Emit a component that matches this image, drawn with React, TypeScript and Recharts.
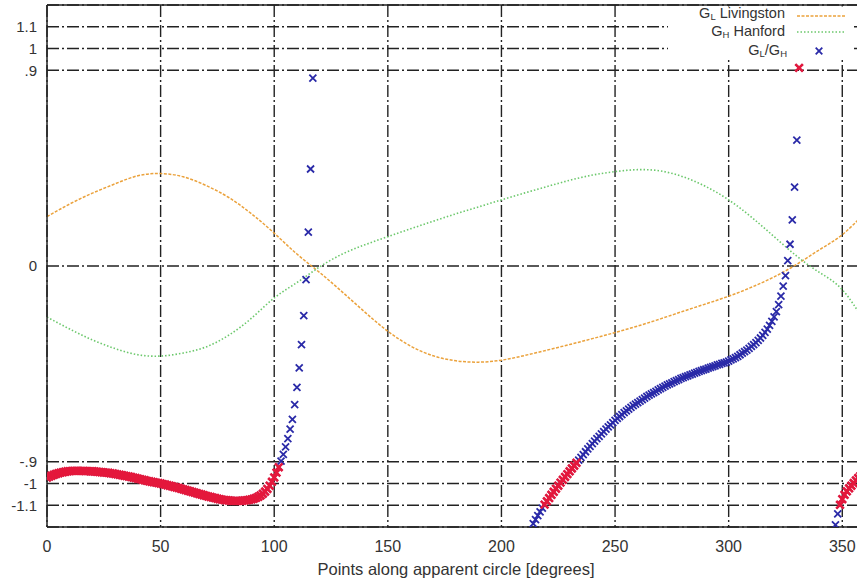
import React from 'react';
import { ComposedChart, Line, Scatter, XAxis, YAxis, CartesianGrid, ReferenceLine } from 'recharts';

// ---- tick labels ----
const xTicks = [0, 50, 100, 150, 200, 250, 300, 350];
const yTicks = [-1.1, -1, -0.9, 0, 0.9, 1, 1.1];
const yTickLabels = ['-1.1', '-1', '-.9', '0', '.9', '1', '1.1'];

// ---- antenna patterns, sampled every 10 degrees ----
const angles10 = [0, 10, 20, 30, 40, 50, 60, 70, 80, 90, 100, 110, 120, 130, 140, 150, 160, 170, 180,
  190, 200, 210, 220, 230, 240, 250, 260, 270, 280, 290, 300, 310, 320, 330, 340, 350, 360];
const livingston = [0.227, 0.285, 0.335, 0.378, 0.415, 0.425, 0.41, 0.37, 0.315, 0.24, 0.151, 0.055,
  -0.03, -0.12, -0.213, -0.3, -0.368, -0.413, -0.436, -0.442, -0.433, -0.412, -0.387, -0.361, -0.334,
  -0.306, -0.276, -0.243, -0.208, -0.174, -0.139, -0.098, -0.05, 0.008, 0.075, 0.144, 0.245];
const hanford = [-0.235, -0.29, -0.34, -0.38, -0.408, -0.414, -0.4, -0.372, -0.318, -0.24, -0.147, -0.076,
  -0.004, 0.055, 0.098, 0.135, 0.171, 0.206, 0.24, 0.272, 0.304, 0.335, 0.365, 0.394, 0.418, 0.434, 0.443,
  0.437, 0.41, 0.365, 0.304, 0.225, 0.135, 0.045, -0.03, -0.109, -0.26];

// ---- ratio G_L/G_H, one point per degree (visible branches only) ----
const ratioAStart = 0;
const ratioA = [
  -0.973, -0.968, -0.964, -0.960, -0.956, -0.953, -0.950, -0.948, -0.946, -0.944,
  -0.943, -0.942, -0.942, -0.942, -0.942, -0.942, -0.942, -0.943, -0.943, -0.944,
  -0.944, -0.945, -0.946, -0.947, -0.948, -0.949, -0.950, -0.951, -0.953, -0.954,
  -0.956, -0.958, -0.960, -0.962, -0.964, -0.966, -0.968, -0.970, -0.973, -0.975,
  -0.978, -0.980, -0.983, -0.985, -0.988, -0.990, -0.992, -0.994, -0.996, -0.998,
  -1.000, -1.003, -1.005, -1.008, -1.010, -1.013, -1.016, -1.018, -1.021, -1.024,
  -1.027, -1.030, -1.033, -1.036, -1.039, -1.042, -1.045, -1.048, -1.051, -1.054,
  -1.057, -1.060, -1.062, -1.065, -1.067, -1.070, -1.072, -1.074, -1.076, -1.077,
  -1.078, -1.079, -1.080, -1.080, -1.080, -1.080, -1.079, -1.078, -1.077, -1.075,
  -1.073, -1.070, -1.066, -1.061, -1.055, -1.047, -1.037, -1.025, -1.010, -0.992,
  -0.972, -0.950, -0.925, -0.897, -0.866, -0.832, -0.794, -0.750, -0.705, -0.637,
  -0.558, -0.468, -0.361, -0.228, -0.063, 0.156, 0.446, 0.864];
const ratioBStart = 214;
const ratioB = [
  -1.185, -1.166, -1.148, -1.130, -1.113, -1.097, -1.082, -1.067, -1.052, -1.038,
  -1.024, -1.010, -0.996, -0.983, -0.970, -0.957, -0.944, -0.931, -0.918, -0.905,
  -0.893, -0.880, -0.867, -0.854, -0.841, -0.829, -0.817, -0.805, -0.794, -0.783,
  -0.772, -0.761, -0.750, -0.740, -0.730, -0.720, -0.710, -0.701, -0.692, -0.683,
  -0.674, -0.666, -0.658, -0.650, -0.642, -0.635, -0.628, -0.621, -0.614, -0.607,
  -0.600, -0.594, -0.588, -0.582, -0.576, -0.570, -0.564, -0.558, -0.552, -0.547,
  -0.542, -0.537, -0.532, -0.527, -0.522, -0.517, -0.513, -0.509, -0.505, -0.501,
  -0.497, -0.493, -0.489, -0.485, -0.481, -0.477, -0.474, -0.470, -0.466, -0.463,
  -0.459, -0.455, -0.452, -0.448, -0.445, -0.442, -0.437, -0.432, -0.427, -0.421,
  -0.415, -0.408, -0.401, -0.394, -0.387, -0.379, -0.370, -0.361, -0.352, -0.342,
  -0.331, -0.319, -0.305, -0.290, -0.273, -0.255, -0.234, -0.210, -0.178, -0.139,
  -0.093, -0.044, 0.025, 0.100, 0.212, 0.363, 0.579, 0.911];
const ratioCStart = 347;
const ratioC = [-1.190, -1.140, -1.098, -1.072, -1.052, -1.036, -1.022, -1.010, -0.998, -0.986,
  -0.975, -0.965, -0.957];

const toPoints = (start: number, vals: number[]) => vals.map((y, i) => ({ x: start + i, y }));
const livingstonData = angles10.map((x, i) => ({ x, y: livingston[i] }));
const hanfordData = angles10.map((x, i) => ({ x, y: hanford[i] }));
const ratioAll = [...toPoints(ratioAStart, ratioA), ...toPoints(ratioBStart, ratioB), ...toPoints(ratioCStart, ratioC)];
const ratioNearOne = ratioAll.filter((p) => Math.abs(p.y) >= 0.9 && Math.abs(p.y) <= 1.1);

const BLUE = '#2a2aa8';
const RED = '#e4183c';
const ORANGE = '#eba23c';
const GREEN = '#6cc86c';
const FONT = '"Liberation Sans", Arial, sans-serif';

const XMark = ({ cx, cy, color, r, w }: any) =>
  cx == null || cy == null ? null : (
    <path d={`M${cx - r},${cy - r}L${cx + r},${cy + r}M${cx - r},${cy + r}L${cx + r},${cy - r}`}
      stroke={color} strokeWidth={w} fill="none" />
  );

const LegendOverlay = () => (
  <svg width={857} height={70} style={{ position: 'absolute', left: 0, top: 0, pointerEvents: 'none' }}>
    <rect x={668} y={6.5} width={186} height={51} fill="#fff" />
    <g fontFamily={FONT} fontSize={14.5} fill="#333" textAnchor="end">
      <text x={785} y={18}>
        G<tspan dy={2} fontSize={9.5}>L</tspan><tspan dy={-2}> Livingston</tspan>
      </text>
      <text x={785} y={36}>
        G<tspan dy={2} fontSize={9.5}>H</tspan><tspan dy={-2}> Hanford</tspan>
      </text>
      <text x={787} y={55}>
        G<tspan dy={2} fontSize={9.5}>L</tspan><tspan dy={-2}>/G</tspan><tspan dy={2} fontSize={9.5}>H</tspan>
      </text>
    </g>
    <line x1={797} x2={845} y1={16} y2={16} stroke={ORANGE} strokeWidth={1.5} strokeDasharray="3 1.5" />
    <line x1={797} x2={845} y1={32} y2={32} stroke={GREEN} strokeWidth={1.5} strokeDasharray="1.5 2" />
    <XMark cx={819} cy={51} color={BLUE} r={3.3} w={1.8} />
  </svg>
);

export default function App() {
  return (
    <div style={{ position: 'fixed', left: 0, top: 0, width: 857, height: 582, overflow: 'hidden', background: '#fff' }}>
      <ComposedChart width={865} height={582} margin={{ top: 5, right: 0, left: 0, bottom: 0 }}>
        <CartesianGrid stroke="#222" strokeWidth={1.4} strokeDasharray="12 3 2 3" />
        <XAxis type="number" dataKey="x" domain={[0, 360]} ticks={xTicks} height={55}
          allowDataOverflow tickSize={0} tickMargin={14}
          axisLine={{ stroke: '#222', strokeWidth: 1.5 }}
          tick={{ fill: '#333', fontSize: 16, fontFamily: FONT }}
          label={{ value: 'Points along apparent circle [degrees]', position: 'insideBottom', offset: 7,
            style: { fill: '#333', fontSize: 16.5, fontFamily: FONT } }} />
        <YAxis type="number" domain={[-1.2, 1.2]} ticks={yTicks} width={47} allowDataOverflow
          tickSize={0} tickMargin={10} interval={0}
          tickFormatter={(v: number) => yTickLabels[yTicks.indexOf(v)] ?? String(v)}
          axisLine={{ stroke: '#222', strokeWidth: 1.5 }}
          tick={{ fill: '#333', fontSize: 15, fontFamily: FONT }} />
        <ReferenceLine y={1.2} stroke="#222" strokeWidth={1.5} />
        <Line data={livingstonData} dataKey="y" type="natural" stroke={ORANGE} strokeWidth={1.5}
          strokeDasharray="3 1.5" dot={false} isAnimationActive={false} />
        <Line data={hanfordData} dataKey="y" type="natural" stroke={GREEN} strokeWidth={1.6}
          strokeDasharray="1.5 2" dot={false} isAnimationActive={false} />
        <Scatter data={ratioAll} dataKey="y" isAnimationActive={false}
          shape={(p: any) => <XMark cx={p.cx} cy={p.cy} color={BLUE} r={3.5} w={1.8} />} />
        <Scatter data={ratioNearOne} dataKey="y" isAnimationActive={false}
          shape={(p: any) => <XMark cx={p.cx} cy={p.cy} color={RED} r={3.8} w={2.6} />} />
      </ComposedChart>
      <LegendOverlay />
    </div>
  );
}
